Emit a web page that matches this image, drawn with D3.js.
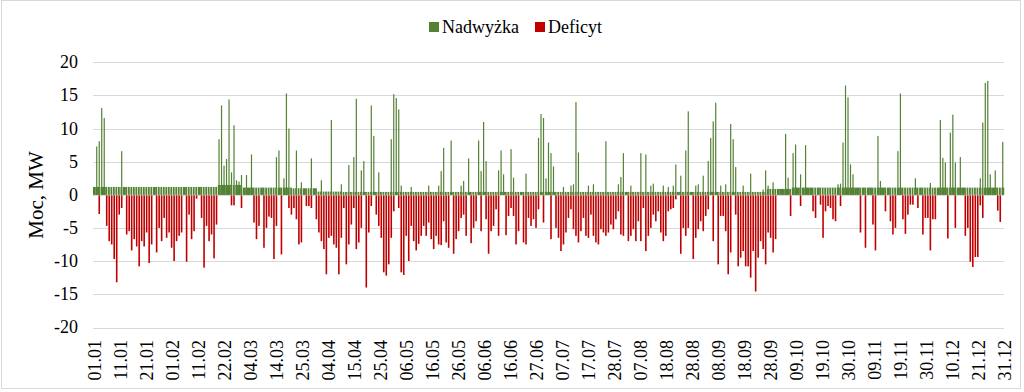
<!DOCTYPE html>
<html><head><meta charset="utf-8">
<script src="https://cdn.jsdelivr.net/npm/d3@7"></script>
<style>
body{margin:0;background:#fff}
svg{display:block}
text{font-family:"Liberation Serif","Times New Roman",serif;fill:#000}
</style>
</head><body><svg id="c" width="1024" height="392"></svg>
<script>
// ---- data (hourly year, values read per day; MW) ----
const seriesNames = ["Nadwyżka", "Deficyt"];
const tickLabels = ["01.01","11.01","21.01","01.02","11.02","22.02","04.03","14.03","25.03","04.04","15.04","25.04",
  "06.05","16.05","26.05","06.06","16.06","27.06","07.07","17.07","28.07","07.08","18.08","28.08",
  "08.09","18.09","28.09","09.10","19.10","30.10","09.11","19.11","30.11","10.12","21.12","31.12"];
const tickEveryHours = 250;
const hoursInYear = 8760;
// typical surplus level for each 10-day block
const poziom = [1.2,1.2,1.2,1.2,1.2,1.5,1.1,1.1,1.0,0.5,
  0.45,0.45,0.45,0.45,0.45,0.45,0.45,0.45,0.45,0.45,0.45,0.45,0.45,0.45,0.45,0.45,0.45,
  0.9,1.1,1.1,1.1,1.1,1.1,1.1,1.1,1.1,1.1];
// daily peak surplus (0 = only typical level)
const nadwyzka = [
  0,7.3,8.1,13.1,11.6,0,0,0,0,0,
  0,6.6,0,0,0,0,0,0,0,0,
  0,0,0,0,0,0,0,0,0,0,
  0,0,0,0,0,0,0,0,0,0,
  0,0,0,0,0,0,0,0,0,0,
  8.4,13.5,4.4,5.4,14.4,3.4,10.5,2.2,2.0,3.0,
  0,3.0,0,6.1,0,0,0,0,0,0,
  0,0,0,5.7,6.7,0,2.5,15.3,10.0,0,
  0,6.7,0,1.9,0,0,0,5.5,0,0,
  0,2.2,0,0,0,11.3,0,0,0,1.6,
  0,0,4.5,0,5.7,14.5,0,3.7,5.1,0,
  0,13.5,8.9,0,3.4,0,0,0,0,8.4,
  15.2,14.6,12.9,1.4,0,0,0,1.2,0,0,
  0,0,0,0,1.4,0,0,0,1.4,3.6,
  7.1,0,0,8.2,0,0,0,1.4,2.1,0,
  5.5,0,0,0,8.2,3.6,11.0,5.1,0,0,
  0,0,3.7,6.7,3.1,0,0,6.9,2.6,0,
  0,0,0,3.2,0,0,0,0,8.6,12.2,
  11.6,2.5,7.9,6.3,4.3,0,0,0,1.2,0,
  0,1.4,1.6,14.0,6.4,0,0,0,1.4,0,
  1.6,0,0,0,0,8.1,0,0,0,0,
  1.6,2.7,6.3,0,0,1.4,0,0,0,6.3,
  0,6.1,0,1.4,1.7,0,0,0,1.4,0,
  1.2,0,1.4,4.6,0,2.9,0,6.7,12.6,0,
  0,1.4,1.6,0,2.9,0,5.1,8.6,11.1,13.9,
  0,1.4,0,1.6,0,10.7,8.4,4.2,0,0,
  1.4,0,0,3.2,0,0,0,0,0.8,3.7,
  1.4,0,1.9,0,0,0,0,9.2,2.6,0,
  6.3,7.6,0,3.1,0,7.5,0,0,0,0,
  0,0,0,0,0,0,0,0,1.6,1.7,
  7.9,16.5,14.7,4.6,3.1,0,0,0,0,0,
  0,0,0,0,8.9,2.1,0,0,0,0,
  0,0,6.6,15.3,0,0,0,0,0,2.5,
  0,0,0,0,0,1.8,0,0,0,11.3,
  5.6,4.9,0,9.4,12.1,4.9,0,5.7,0,0,
  0,0,0,0,0,2.5,10.9,16.9,17.2,3.1,
  0,3.7,0,0,8.0];
// daily peak deficit
const deficyt = [
  0,0,-2.8,0,0,-4.6,-6.9,-7.4,-9.6,-13.1,
  -2.9,-1.9,0,-5.9,-5.4,-8.3,-6.6,-7.7,-10.7,-6.9,
  -7.7,-5.6,-10.2,-7.4,0,-8.6,-4.9,-6.9,-3.4,-6.4,
  -5.6,-7.9,-9.9,-6.9,-6.1,-5.6,0,-10.0,-2.9,-6.6,
  -5.4,-0.5,0,-3.4,-10.9,-4.6,-6.9,-5.9,-9.5,-4.4,
  0,0,0,0,0,-1.5,-1.5,0,0,-1.9,
  0,0,0,0,-4.1,-6.6,-4.6,0,-7.9,-4.9,
  -3.2,-3.4,-9.6,-4.6,0,-8.9,0,0,-1.9,-2.9,
  -1.9,-3.6,-7.4,-7.1,0,-1.6,-1.6,-1.9,0,-3.6,
  -5.6,-6.9,-8.1,-11.9,-6.4,-6.1,-7.4,-7.9,-11.9,-6.4,
  -1.9,-10.4,-7.4,-4.4,-1.9,-8.1,-7.1,-4.9,0,-13.9,
  -5.6,-1.6,0,-2.9,-4.6,-6.4,-11.6,-12.1,-10.4,-6.4,
  -2.4,0,-1.9,-11.6,-12.0,-6.1,-9.9,-4.6,-6.9,-8.3,
  -7.3,-6.1,-4.6,-6.1,-4.1,-6.6,-8.1,-6.1,-7.4,-7.5,
  -3.9,-7.1,-7.9,0,-8.8,-6.6,-5.4,-3.4,-2.9,-6.1,
  0,-7.2,-4.9,-3.9,0,-5.4,0,-3.6,-8.8,-5.4,
  -4.6,-2.1,-6.1,0,0,-6.0,-3.1,-1.9,-3.1,-7.4,
  -5.4,0,-7.1,-7.4,-3.4,-4.6,-3.6,-4.9,-2.1,0,
  -4.1,0,0,-6.6,0,-4.9,-6.4,-8.4,-7.4,-5.6,
  -3.4,-2.1,-5.1,-6.1,-7.1,-5.4,-3.4,-6.1,-6.4,-2.9,
  -6.1,-7.1,-7.4,-5.1,-5.6,-6.1,-5.6,-4.4,-5.1,-3.6,
  -2.4,-5.9,-6.1,0,-6.9,-6.1,-5.1,-6.9,-3.9,-6.9,
  -1.9,-8.4,-6.1,-4.9,-2.9,-3.9,-2.4,-5.6,-6.9,-6.1,
  -2.4,-2.1,-1.9,-0.6,0,-8.8,-4.9,-6.1,-4.9,0,
  -9.6,-6.4,-5.1,-3.9,-5.4,-3.1,-2.1,0,-6.9,0,
  -10.4,-3.1,-3.1,-5.4,-11.9,-8.6,0,-2.9,-10.7,-9.4,
  -8.4,-10.7,-10.7,-12.4,-8.4,-14.5,-9.4,-6.9,-8.1,-10.4,
  -5.6,-6.4,-8.6,-6.6,0,0,0,0,0,-3.1,
  0,0,0,-1.6,0,0,0,0,-2.4,-3.4,
  0,-1.4,-6.4,-2.4,-1.6,-1.9,-3.6,-3.9,0,-1.6,
  0,0,0,0,0,0,0,-5.6,0,-7.9,
  0,0,-4.4,-8.3,0,0,0,-2.4,0,-3.9,
  -5.9,-4.9,0,0,-3.6,-5.8,-2.9,-1.4,-1.4,0,
  -1.9,0,-5.9,-3.4,-3.4,-8.3,-3.6,-3.6,0,0,
  0,0,-6.5,0,0,-4.9,0,0,0,-6.1,
  -4.9,-10.0,-10.8,-9.3,-9.3,-1.5,-3.4,0,0,0,
  0,0,-2.3,-4.0,0];
const yTicks = [-20,-15,-10,-5,0,5,10,15,20];

// ---- chart ----
const colors = {"Nadwyżka":"#548235","Deficyt":"#c00000"};
const svg = d3.select("#c");
const x = d3.scaleLinear().domain([0, hoursInYear]).range([93, 1004]);
const y = d3.scaleLinear().domain([-20, 20]).range([327.5, 62.3]);

// chart border
svg.append("rect").attr("x",1.5).attr("y",0.5).attr("width",1019).attr("height",388)
  .attr("fill","none").attr("stroke","#d9d9d9");

// gridlines
svg.append("g").selectAll("line").data(yTicks).join("line")
  .attr("x1",x(0)).attr("x2",x(hoursInYear))
  .attr("y1",d=>Math.round(y(d))+0.5).attr("y2",d=>Math.round(y(d))+0.5)
  .attr("stroke","#d9d9d9").attr("stroke-width",1);

// y tick labels
svg.append("g").selectAll("text").data(yTicks).join("text")
  .attr("x",78).attr("y",d=>y(d)).attr("dy","0.33em")
  .attr("text-anchor","end").attr("font-size",18).text(d=>d);

// y title
svg.append("text").attr("transform",`translate(43,${y(0)}) rotate(-90)`)
  .attr("text-anchor","middle").attr("font-size",21).text("Moc, MW");

const g = svg.append("g");
const days = d3.range(nadwyzka.length);
// typical surplus level, drawn per day (interrupted on deficit days)
g.selectAll("rect.base").data(days).join("rect").attr("class","base")
  .attr("x",i=>x(i*24))
  .attr("width",i=>x((i+1)*24)-x(i*24)-(deficyt[i]<0?0.7:-0.2))
  .attr("y",i=>y(poziom[Math.floor(i/10)]))
  .attr("height",i=>y(0)-y(poziom[Math.floor(i/10)]))
  .attr("fill",colors["Nadwyżka"]);
// surplus peaks
g.selectAll("rect.sp").data(days.filter(i=>nadwyzka[i]>0)).join("rect").attr("class","sp")
  .attr("x",i=>x(i*24+12)-0.6).attr("width",1.2)
  .attr("y",i=>y(nadwyzka[i])).attr("height",i=>y(0)-y(nadwyzka[i]))
  .attr("fill",colors["Nadwyżka"]);
// deficit
g.selectAll("rect.df").data(days.filter(i=>deficyt[i]<0)).join("rect").attr("class","df")
  .attr("x",i=>x(i*24+12)-0.8).attr("width",1.6)
  .attr("y",y(0)+0.5).attr("height",i=>y(deficyt[i])-y(0))
  .attr("fill",colors["Deficyt"]);

// x tick labels
svg.append("g").selectAll("text").data(tickLabels).join("text")
  .attr("transform",(d,i)=>`translate(${x(i*tickEveryHours)+2},340) rotate(-90)`)
  .attr("dy","0.33em").attr("text-anchor","end").attr("font-size",18).text(d=>d);

// legend
const lg = svg.append("g");
const legendItems = [{name:seriesNames[0], sx:429, tx:442},{name:seriesNames[1], sx:535, tx:548}];
legendItems.forEach(it=>{
  lg.append("rect").attr("x",it.sx).attr("y",22).attr("width",10).attr("height",10).attr("fill",colors[it.name]);
  lg.append("text").attr("x",it.tx).attr("y",33).attr("font-size",18).text(it.name);
});
</script>
</body></html>
